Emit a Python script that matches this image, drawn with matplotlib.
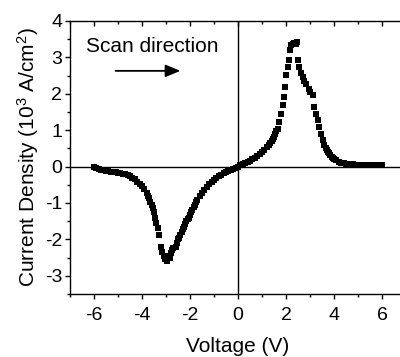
import matplotlib
matplotlib.use("Agg")
import matplotlib.pyplot as plt
from matplotlib.ticker import MultipleLocator

plt.rcParams['font.family'] = ['Liberation Sans', 'DejaVu Sans']
plt.rcParams['mathtext.fontset'] = 'custom'
plt.rcParams['mathtext.rm'] = 'Liberation Sans'
plt.rcParams['mathtext.it'] = 'Liberation Sans:italic'
plt.rcParams['axes.unicode_minus'] = False

voltage_neg = [-6.0, -5.9, -5.8, -5.7, -5.6, -5.5, -5.4, -5.3, -5.2, -5.1, -5.0, -4.9, -4.8, -4.7,
               -4.6, -4.5, -4.4, -4.3, -4.2, -4.1, -4.0, -3.9, -3.8, -3.75, -3.7, -3.65, -3.6,
               -3.55, -3.5, -3.45, -3.4, -3.35, -3.3, -3.2, -3.15, -3.1, -3.05, -3.0, -2.95,
               -2.9, -2.85, -2.8, -2.75, -2.7, -2.6, -2.55, -2.5, -2.45, -2.4, -2.35, -2.3,
               -2.25, -2.2, -2.15, -2.1, -2.05, -2.0, -1.95, -1.9, -1.85, -1.8, -1.75, -1.7,
               -1.6, -1.5, -1.4, -1.3, -1.2, -1.1, -1.0, -0.9, -0.8, -0.7, -0.6, -0.5, -0.4,
               -0.3, -0.2, -0.1, 0.0]
current_neg = [-0.02, -0.04, -0.06, -0.08, -0.10, -0.11, -0.13, -0.14, -0.15, -0.16, -0.17, -0.18,
               -0.20, -0.21, -0.23, -0.26, -0.30, -0.35, -0.41, -0.47, -0.54, -0.62, -0.72, -0.80,
               -0.87, -0.96, -1.05, -1.14, -1.25, -1.40, -1.55, -1.70, -1.88, -2.20, -2.35, -2.45,
               -2.55, -2.50, -2.58, -2.45, -2.50, -2.38, -2.30, -2.25, -2.22, -2.10, -2.00, -1.95,
               -1.88, -1.80, -1.72, -1.65, -1.57, -1.50, -1.45, -1.40, -1.33, -1.25, -1.18, -1.12,
               -1.05, -0.98, -0.92, -0.82, -0.72, -0.64, -0.56, -0.49, -0.42, -0.36, -0.31, -0.26,
               -0.22, -0.18, -0.15, -0.12, -0.09, -0.06, -0.03, 0.0]

voltage_pos = [0.1, 0.2, 0.3, 0.4, 0.5, 0.6, 0.7, 0.8, 0.9, 1.0, 1.1, 1.2, 1.3, 1.35, 1.4, 1.45,
               1.5, 1.55, 1.6, 1.65, 1.72, 1.79, 1.86, 1.93, 1.97, 2.0, 2.07, 2.11, 2.17, 2.21,
               2.28, 2.35, 2.42, 2.47, 2.5, 2.55, 2.62, 2.69, 2.76, 2.83, 2.94, 3.02, 3.11,
               3.18, 3.25, 3.32, 3.39, 3.46, 3.53, 3.6, 3.65, 3.7, 3.75, 3.8,
               3.85, 3.9, 3.95, 4.0, 4.1, 4.2, 4.3, 4.4, 4.5, 4.6, 4.7, 4.8, 4.9, 5.0, 5.2,
               5.4, 5.6, 5.8, 6.0]
current_pos = [0.03, 0.06, 0.09, 0.12, 0.16, 0.20, 0.24, 0.29, 0.34, 0.40, 0.46, 0.53, 0.60,
               0.64, 0.69, 0.75, 0.82, 0.90, 0.97, 1.04, 1.22, 1.45, 1.68, 1.91, 2.19, 2.51,
               2.74, 2.92, 3.20, 3.34, 3.38, 3.40, 3.38, 3.41, 2.92, 2.74, 2.58, 2.46, 2.36,
               2.28, 2.14, 2.04, 1.96, 1.64, 1.45, 1.27, 1.08, 0.90,
               0.72, 0.60, 0.52, 0.46, 0.41, 0.36, 0.31, 0.27, 0.24, 0.21, 0.17, 0.13, 0.11,
               0.09, 0.08, 0.07, 0.065, 0.06, 0.055, 0.05, 0.045, 0.04, 0.035, 0.03, 0.03]

x_ticks = [-6, -4, -2, 0, 2, 4, 6]
y_ticks = [-3, -2, -1, 0, 1, 2, 3, 4]

fig = plt.figure(figsize=(4.0, 3.57), dpi=100)
ax = fig.add_axes([0.175, 0.1765, 0.84, 0.7647])

ax.plot(voltage_neg + voltage_pos, current_neg + current_pos, linestyle='none',
        marker='s', markersize=4.0, color='black', markeredgewidth=0)

ax.axhline(0, color='black', linewidth=1.0)
ax.axvline(0, color='black', linewidth=1.0)

ax.set_xlim(-7, 7)
ax.set_ylim(-3.5, 4)
ax.set_xticks(x_ticks)
ax.set_yticks(y_ticks)
ax.xaxis.set_minor_locator(MultipleLocator(1))
ax.yaxis.set_minor_locator(MultipleLocator(0.5))

for s in ['left', 'top', 'bottom']:
    ax.spines[s].set_linewidth(1.0)
ax.spines['right'].set_visible(False)

ax.tick_params(axis='x', which='both', bottom=True, top=True, direction='out', labelsize=14, pad=6)
ax.tick_params(axis='y', which='both', left=True, right=False, direction='out', labelsize=14, pad=2)
ax.tick_params(which='major', length=3.5, width=1.0)
ax.tick_params(which='minor', length=2, width=1.0)
for t in ax.xaxis.get_major_ticks() + ax.xaxis.get_minor_ticks():
    t.tick2line.set_marker(3)  # top ticks point inward

ax.set_xlabel('Voltage (V)', fontsize=15, labelpad=9)
ax.set_ylabel('Current Density (10$^3$ A/cm$^2$)', fontsize=15, labelpad=3)

ax.text(-6.35, 3.14, 'Scan direction', fontsize=15, ha='left', va='baseline')
ax.annotate('', xy=(-2.4, 2.63), xytext=(-5.1, 2.63),
            arrowprops=dict(arrowstyle='-|>,head_length=0.6,head_width=0.25', color='black', lw=1.3,
                            mutation_scale=15, shrinkA=0, shrinkB=0))

fig.savefig('out.png', dpi=100)
